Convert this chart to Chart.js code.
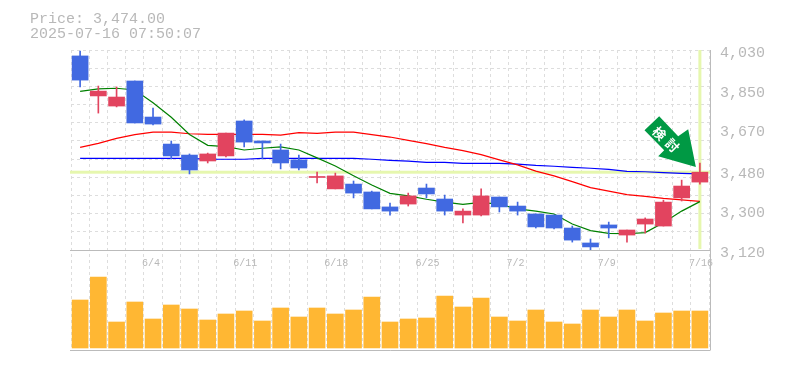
<!DOCTYPE html>
<html>
<head>
<meta charset="utf-8">
<style>
  body { margin: 0; background: #fff; }
</style>
</head>
<body>
<canvas id="myChart" width="785" height="370"></canvas>
<script src="https://cdn.jsdelivr.net/npm/chart.js@4"></script>
<script>
const dates = ["5/29","5/30","6/2","6/3","6/4","6/5","6/6","6/9","6/10","6/11","6/12","6/13","6/16","6/17","6/18","6/19","6/20","6/23","6/24","6/25","6/26","6/27","6/30","7/1","7/2","7/3","7/4","7/7","7/8","7/9","7/10","7/11","7/14","7/15","7/16"];
const openData = [4003,3821,3775,3889,3725,3602,3552,3525,3548,3707,3616,3575,3530,3450,3398,3420,3384,3316,3329,3402,3352,3279,3279,3361,3320,3284,3279,3220,3152,3234,3188,3238,3229,3357,3429];
const closeData = [3893,3843,3816,3698,3693,3548,3484,3557,3652,3611,3607,3516,3493,3452,3457,3379,3307,3297,3366,3375,3297,3297,3366,3316,3297,3225,3220,3165,3134,3220,3211,3261,3338,3411,3474];
const highData = [4025,3866,3862,3889,3766,3616,3557,3561,3652,3712,3616,3602,3552,3475,3470,3434,3388,3334,3379,3420,3370,3307,3398,3361,3338,3284,3279,3229,3170,3247,3211,3266,3347,3438,3516];
const lowData = [3862,3743,3771,3698,3689,3534,3466,3516,3543,3589,3534,3489,3484,3425,3398,3357,3307,3279,3320,3357,3279,3243,3275,3293,3279,3220,3216,3156,3120,3175,3156,3197,3229,3343,3420];
const volumeData = [48,71,26,46,29,43,39,28,34,37,27,40,31,40,34,38,51,26,29,30,52,41,50,31,27,38,26,24,38,31,38,27,35,37,37];
const shortAvg = [3842,3853,3856,3848,3790,3724,3646,3596,3590,3575,3583,3589,3575,3539,3502,3458,3416,3378,3366,3351,3338,3328,3337,3328,3307,3297,3284,3238,3208,3196,3194,3199,3244,3297,3340];
const midAvg = [3587,3605,3628,3645,3656,3656,3649,3646,3646,3646,3646,3643,3654,3651,3656,3656,3645,3634,3619,3604,3587,3572,3554,3530,3507,3479,3457,3431,3404,3388,3372,3364,3355,3348,3341];
const longAvg = [3537,3537,3537,3537,3537,3537,3537,3533,3533,3533,3537,3537,3537,3537,3537,3537,3533,3528,3524,3519,3519,3514,3514,3514,3511,3505,3501,3496,3492,3487,3478,3476,3472,3469,3466];
const yTicks = [4030,3850,3670,3480,3300,3120];
const headerLines = ["Price: 3,474.00","2025-07-16 07:50:07"];
const arrowText = ["検","討"];
const lastPrice = 3474;

const yMin = 3120;
const yMax = 4030;
const gridStep = (yMax - yMin) / 11;
const textColor = "#b8b8b8";
const monoFont = "'Liberation Mono', monospace";

function isGridValue(v) {
  const k = (v - yMin) / gridStep;
  return Math.abs(k - Math.round(k)) < 0.001;
}

function candleColor(i) {
  return closeData[i] >= openData[i] ? "#e2445f" : "#4169e1";
}

// bands, frame, header and the arrow are not in Chart.js so they go in a plugin
const extras = {
  id: "extras",
  beforeDatasetsDraw(chart) {
    const { ctx, chartArea, scales } = chart;
    const py = scales.y.getPixelForValue(lastPrice);
    const px = scales.x.getPixelForValue(dates.length - 1);
    ctx.save();
    ctx.fillStyle = "#e6f7ae";
    ctx.fillRect(chartArea.left - 1, py - 1.5, chartArea.width + 2, 3);
    ctx.fillRect(px - 1.5, scales.y.top, 3, scales.y.height - 1);
    ctx.strokeStyle = "#bbbbbb";
    ctx.lineWidth = 1;
    ctx.beginPath();
    ctx.moveTo(chartArea.left - 1, scales.y.bottom + 0.5);
    ctx.lineTo(chartArea.right + 1, scales.y.bottom + 0.5);
    ctx.moveTo(chartArea.left - 1, chartArea.bottom + 0.5);
    ctx.lineTo(chartArea.right + 1.5, chartArea.bottom + 0.5);
    ctx.moveTo(chartArea.right + 1.5, chartArea.top);
    ctx.lineTo(chartArea.right + 1.5, chartArea.bottom);
    ctx.stroke();
    ctx.restore();
  },
  afterDatasetsDraw(chart) {
    const { ctx, scales } = chart;
    const tipX = scales.x.getPixelForValue(dates.length - 1) - 4;
    const tipY = scales.y.getPixelForValue(highData[dates.length - 1]) + 4;
    const shape = [[0,0],[-7.7,-37.7],[-17.7,-30.7],[-36.7,-50.7],[-51.4,-36.7],[-31.7,-16.7],[-37.7,-10.7]];
    ctx.save();
    ctx.fillStyle = "#009944";
    ctx.beginPath();
    shape.forEach((p, i) => {
      if (i === 0) ctx.moveTo(tipX + p[0], tipY + p[1]);
      else ctx.lineTo(tipX + p[0], tipY + p[1]);
    });
    ctx.closePath();
    ctx.fill();
    ctx.fillStyle = "#ffffff";
    ctx.font = "bold 13px 'Noto Sans CJK JP'";
    ctx.textAlign = "center";
    ctx.textBaseline = "middle";
    [[-36.5,-33.5],[-23.5,-21.5]].forEach((p, i) => {
      ctx.save();
      ctx.translate(tipX + p[0], tipY + p[1]);
      ctx.rotate(Math.PI / 4);
      ctx.fillText(arrowText[i], 0, 0);
      ctx.restore();
    });
    ctx.restore();

    ctx.save();
    ctx.fillStyle = textColor;
    ctx.font = "15px " + monoFont;
    ctx.textAlign = "left";
    headerLines.forEach((line, i) => ctx.fillText(line, 30, 23 + i * 15));
    ctx.restore();
  }
};

new Chart("myChart", {
  data: {
    labels: dates,
    datasets: [
      { type: "bar", label: "Candle", data: dates.map((d, i) => [openData[i], closeData[i]]), backgroundColor: dates.map((d, i) => candleColor(i)), barThickness: 16, grouped: false, yAxisID: "y", order: 1, minBarLength: 1 },
      { type: "bar", label: "Wick", data: dates.map((d, i) => [lowData[i], highData[i]]), backgroundColor: dates.map((d, i) => candleColor(i)), barThickness: 1, grouped: false, yAxisID: "y", order: 2 },
      { type: "line", label: "MA short", data: shortAvg, borderColor: "#008000", borderWidth: 1.2, pointRadius: 0, tension: 0, yAxisID: "y", order: 3 },
      { type: "line", label: "MA mid", data: midAvg, borderColor: "#ff0000", borderWidth: 1.2, pointRadius: 0, tension: 0, yAxisID: "y", order: 3 },
      { type: "line", label: "MA long", data: longAvg, borderColor: "#0000ff", borderWidth: 1.2, pointRadius: 0, tension: 0, yAxisID: "y", order: 3 },
      { type: "bar", label: "Volume", data: volumeData, backgroundColor: "#ffb733", barThickness: 16, grouped: false, yAxisID: "yVol", order: 4 }
    ]
  },
  options: {
    responsive: false,
    animation: false,
    layout: { padding: { left: 71, right: 0, top: 50, bottom: 20 } },
    plugins: { legend: { display: false }, tooltip: { enabled: false } },
    scales: {
      x: {
        type: "category",
        position: { y: yMin },
        offset: true,
        grid: { color: "#dddddd", drawTicks: false, offset: true },
        border: { display: false, dash: [3, 3] },
        ticks: {
          autoSkip: false,
          maxRotation: 0,
          align: "start",
          labelOffset: -11,
          padding: 7,
          color: textColor,
          font: { family: monoFont, size: 10 },
          callback: function (value, index) {
            return index % 5 === 4 ? dates[index] : "";
          }
        }
      },
      y: {
        position: "right",
        stack: "main",
        stackWeight: 2,
        min: yMin,
        max: yMax,
        afterFit: axis => { axis.width = 76; },
        afterBuildTicks: axis => {
          const values = yTicks.slice();
          for (let k = 1; k < 11; k++) values.push(yMin + k * gridStep);
          axis.ticks = values.sort((a, b) => a - b).map(v => ({ value: v }));
        },
        grid: {
          drawTicks: false,
          color: c => (c.tick && isGridValue(c.tick.value) ? "#dddddd" : "transparent")
        },
        border: { display: false, dash: [3, 3] },
        ticks: {
          autoSkip: false,
          padding: 11,
          labelOffset: 3,
          color: textColor,
          font: { family: monoFont, size: 15 },
          callback: value => (yTicks.includes(value) ? value.toLocaleString("en-US") : "")
        }
      },
      yVol: {
        position: "right",
        stack: "main",
        stackWeight: 1,
        min: -2,
        max: 98,
        afterFit: axis => { axis.width = 76; },
        grid: { display: false },
        border: { display: false },
        ticks: { display: false }
      }
    }
  },
  plugins: [extras]
});
</script>
</body>
</html>
